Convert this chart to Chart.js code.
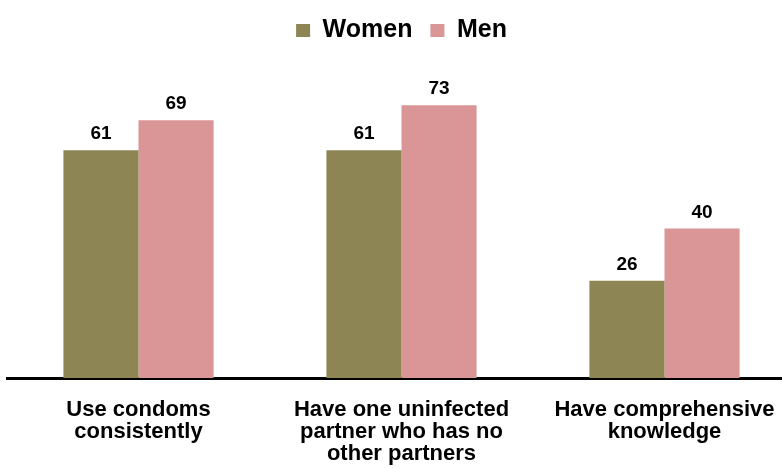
<!DOCTYPE html>
<html lang="en">
<head>
    <meta charset="UTF-8">
    <title>Condom use and knowledge</title>
    <script src="https://cdn.jsdelivr.net/npm/chart.js@4.4.1/dist/chart.umd.min.js"></script>
    <style>
        html, body { margin: 0; padding: 0; background: #fff; overflow: hidden; }
        #wrap { width: 796px; height: 486px; position: relative; }
    </style>
</head>
<body>
<div id="wrap"><canvas id="chart"></canvas></div>
<script>
    var categories = [
        ["Use condoms", "consistently"],
        ["Have one uninfected", "partner who has no", "other partners"],
        ["Have comprehensive", "knowledge"]
    ];
    var women = [61, 61, 26];
    var men = [69, 73, 40];

    // draws the value above each bar
    var barLabels = {
        id: 'barLabels',
        afterDatasetsDraw: function (chart) {
            var ctx = chart.ctx;
            ctx.save();
            ctx.font = 'bold 19px "Liberation Sans", Arial, sans-serif';
            ctx.fillStyle = '#000';
            ctx.textAlign = 'center';
            ctx.textBaseline = 'alphabetic';
            chart.data.datasets.forEach(function (ds, i) {
                chart.getDatasetMeta(i).data.forEach(function (bar, j) {
                    ctx.fillText(ds.data[j], bar.x, bar.y - 11);
                });
            });
            ctx.restore();
        }
    };

    var ctx = document.getElementById('chart').getContext('2d');
    var theChart = new Chart(ctx, {
        type: 'bar',
        data: {
            labels: categories,
            datasets: [
                { label: 'Women', data: women, backgroundColor: '#8D8654' },
                { label: 'Men', data: men, backgroundColor: '#DA9596' }
            ]
        },
        options: {
            responsive: true,
            maintainAspectRatio: false,
            animation: false,
            layout: { padding: { left: 7, right: 0, top: 0, bottom: 0 } },
            datasets: {
                bar: { categoryPercentage: 0.571, barPercentage: 1.0 }
            },
            plugins: {
                tooltip: { enabled: false },
                legend: {
                    position: 'top',
                    labels: {
                        boxWidth: 14,
                        boxHeight: 13,
                        padding: 18,
                        color: '#000',
                        font: { family: '"Liberation Sans", Arial, sans-serif', size: 25, weight: 'bold' }
                    }
                }
            },
            scales: {
                x: {
                    grid: { display: false, drawTicks: false },
                    border: { display: true, color: '#000', width: 3 },
                    ticks: {
                        color: '#000',
                        padding: 21,
                        maxRotation: 0,
                        autoSkip: false,
                        font: { family: '"Liberation Sans", Arial, sans-serif', size: 22, weight: 'bold', lineHeight: 1.0 }
                    }
                },
                y: {
                    display: false,
                    min: 0,
                    max: 87
                }
            }
        },
        plugins: [barLabels]
    });
</script>
</body>
</html>
